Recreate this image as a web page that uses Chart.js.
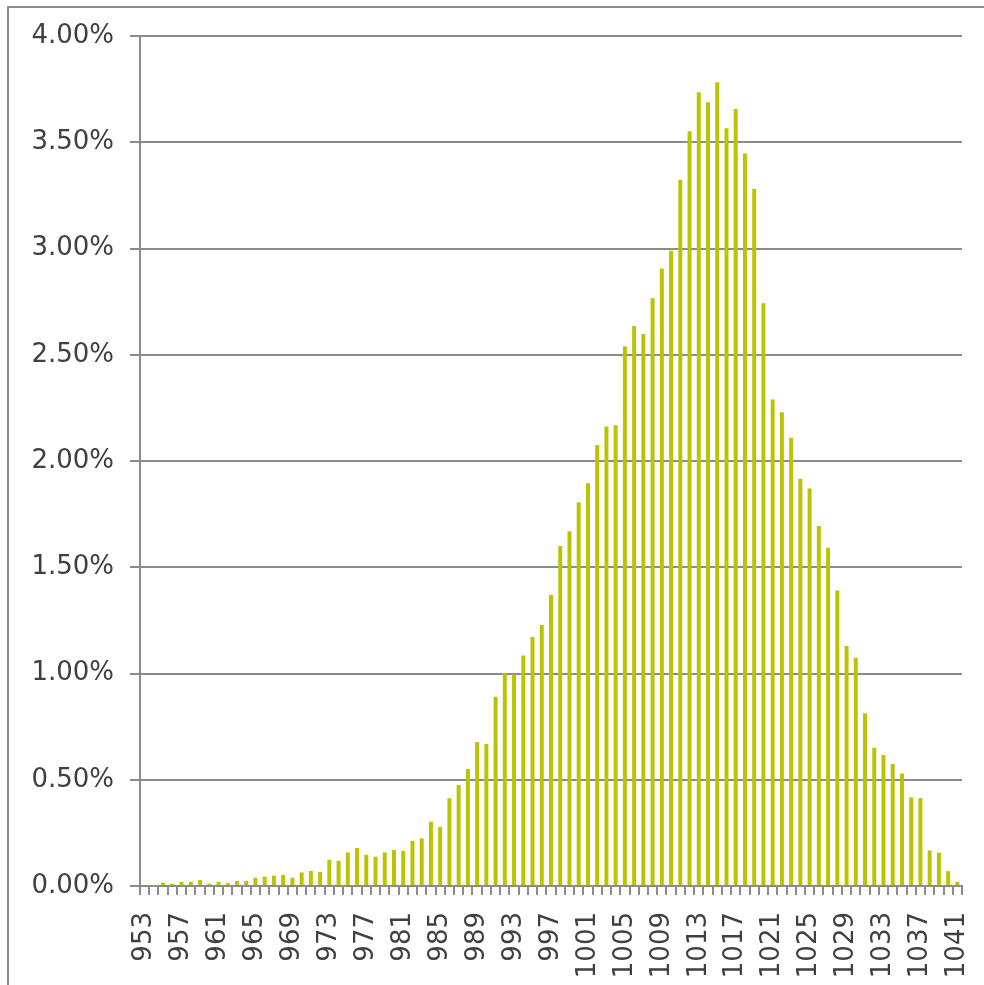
<!DOCTYPE html>
<html>
<head>
<meta charset="utf-8">
<script src="https://cdn.jsdelivr.net/npm/chart.js@4.4.1/dist/chart.umd.min.js"></script>
<style>
  html, body { margin: 0; padding: 0; background: #fff; }
  .wrap { position: relative; width: 984px; height: 985px; }
  .frame {
    position: absolute; left: 7px; top: 6px; right: -4px; bottom: -4px;
    border-left: 2px solid #8a8a8a; border-top: 2px solid #8a8a8a;
    pointer-events: none;
  }
  canvas { position: absolute; left: 0; top: 0; }
</style>
</head>
<body>
<div class="wrap">
  <canvas id="distChart" width="984" height="985"></canvas>
  <div class="frame"></div>
</div>
<script>
// categories 953..1041
const categories = [
  953, 954, 955, 956, 957, 958, 959, 960, 961, 962,
  963, 964, 965, 966, 967, 968, 969, 970, 971, 972,
  973, 974, 975, 976, 977, 978, 979, 980, 981, 982,
  983, 984, 985, 986, 987, 988, 989, 990, 991, 992,
  993, 994, 995, 996, 997, 998, 999, 1000, 1001, 1002,
  1003, 1004, 1005, 1006, 1007, 1008, 1009, 1010, 1011, 1012,
  1013, 1014, 1015, 1016, 1017, 1018, 1019, 1020, 1021, 1022,
  1023, 1024, 1025, 1026, 1027, 1028, 1029, 1030, 1031, 1032,
  1033, 1034, 1035, 1036, 1037, 1038, 1039, 1040, 1041
];

// share of observations, in percent
const shares = [
  0.005, 0.002, 0.016, 0.011, 0.020, 0.020, 0.028, 0.011, 0.020, 0.014,
  0.024, 0.024, 0.039, 0.044, 0.049, 0.052, 0.039, 0.064, 0.071, 0.066,
  0.124, 0.119, 0.158, 0.179, 0.147, 0.138, 0.158, 0.169, 0.165, 0.212,
  0.224, 0.303, 0.278, 0.413, 0.475, 0.551, 0.678, 0.668, 0.891, 1.002,
  0.995, 1.085, 1.172, 1.228, 1.370, 1.600, 1.669, 1.806, 1.895, 2.075,
  2.162, 2.168, 2.540, 2.635, 2.598, 2.766, 2.906, 2.989, 3.323, 3.552,
  3.735, 3.688, 3.782, 3.566, 3.657, 3.447, 3.280, 2.742, 2.289, 2.229,
  2.110, 1.917, 1.871, 1.694, 1.592, 1.391, 1.129, 1.074, 0.813, 0.651,
  0.617, 0.574, 0.529, 0.417, 0.414, 0.167, 0.157, 0.070, 0.020
];

const yTicks = [0, 0.5, 1, 1.5, 2, 2.5, 3, 3.5, 4];
const labelEvery = 4;

const ctx = document.getElementById('distChart').getContext('2d');

new Chart(ctx, {
  type: 'bar',
  data: {
    labels: categories.map(String),
    datasets: [{
      data: shares,
      backgroundColor: '#bcc300',
      borderWidth: 0,
      categoryPercentage: 1,
      barPercentage: 0.43
    }]
  },
  options: {
    responsive: false,
    animation: false,
    layout: { padding: { top: 36, right: 22, left: 0, bottom: 0 } },
    plugins: { legend: { display: false }, tooltip: { enabled: false } },
    scales: {
      x: {
        offset: true,
        grid: {
          offset: true,
          drawOnChartArea: false,
          drawTicks: true,
          tickLength: 9,
          color: '#8c8c8c',
          lineWidth: 2
        },
        border: { color: '#8c8c8c', width: 2 },
        ticks: {
          autoSkip: false,
          maxRotation: 90,
          minRotation: 90,
          padding: 17,
          color: '#404040',
          font: { family: 'DejaVu Sans', size: 26 },
          callback: function (val, i) {
            return i % labelEvery === 0 ? this.getLabelForValue(val) : '';
          }
        },
        afterFit: function (scale) {
          scale.height = 99;
          scale.paddingLeft = 0;
          scale.paddingRight = 0;
        }
      },
      y: {
        min: 0,
        max: 4,
        afterBuildTicks: function (scale) {
          scale.ticks = yTicks.map(v => ({ value: v }));
        },
        grid: {
          color: '#8c8c8c',
          lineWidth: 2,
          drawTicks: true,
          tickLength: 10
        },
        border: { color: '#8c8c8c', width: 2 },
        ticks: {
          padding: 16,
          color: '#404040',
          font: { family: 'DejaVu Sans', size: 26 },
          callback: v => v.toFixed(2) + '%'
        },
        afterFit: function (scale) {
          scale.width = 140;
          scale.paddingTop = 0;
          scale.paddingBottom = 0;
        }
      }
    }
  }
});
</script>
</body>
</html>
